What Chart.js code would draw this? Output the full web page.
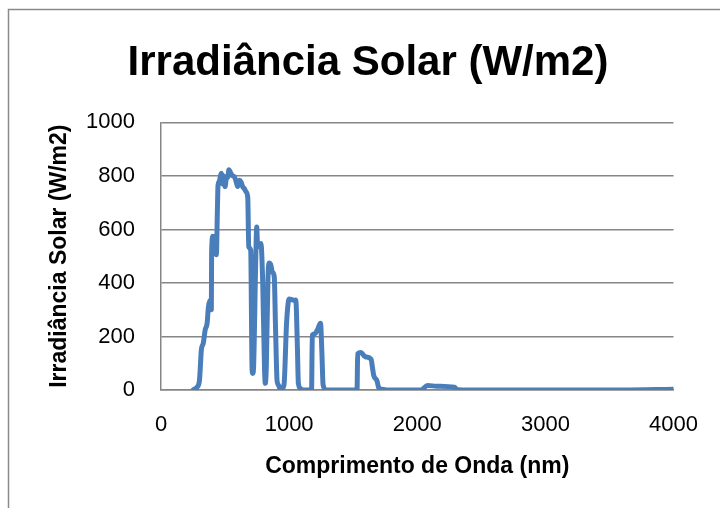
<!DOCTYPE html>
<html>
<head>
<meta charset="utf-8">
<title>Irradiância Solar</title>
<script src="https://cdn.jsdelivr.net/npm/chart.js@4/dist/chart.umd.min.js"></script>
<style>
  body { margin: 0; background: #fff; }
  #wrap { position: relative; width: 720px; height: 508px; }
</style>
</head>
<body>
<div id="wrap"><canvas id="irradChart" width="720" height="508"></canvas></div>
<script>
// comprimento de onda (nm) e irradiância (W/m2)
var comprimentoOnda = [
  250, 280, 300, 315, 330, 345, 360, 370, 385, 393,
  395, 405, 420, 432, 440, 445, 455, 470, 480, 490,
  500, 510, 522, 530, 547, 560, 574, 587, 599, 612,
  625, 638, 651, 665, 677, 685, 700, 711, 716, 722,
  740, 747, 754, 765, 780, 794, 808, 814, 822, 835,
  845, 855, 870, 884, 893, 905, 910, 920, 935, 960,
  980, 1000, 1020, 1040, 1052, 1065, 1072, 1090, 1100, 1175,
  1181, 1200, 1220, 1245, 1255, 1265, 1290, 1530, 1535, 1560,
  1595, 1640, 1650, 1660, 1685, 1700, 1724, 1760, 2030, 2080,
  2150, 2290, 2310, 2400, 3000, 3600, 4000
];
var irradiancia = [
  0, 10, 35, 150, 175, 225, 250, 310, 335, 300,
  510, 575, 560, 505, 670, 765, 780, 810, 770, 800,
  760, 790, 796, 823, 808, 800, 796, 777, 760, 784,
  777, 759, 752, 740, 720, 535, 522, 75, 62, 80,
  500, 609, 535, 540, 547, 398, 80, 25, 90, 420,
  475, 470, 440, 423, 250, 40, 25, 15, 0, 20,
  250, 340, 338, 335, 336, 150, 25, 5, 0, 0,
  205, 210, 224, 249, 150, 20, 0, 0, 135, 140,
  124, 115, 85, 55, 35, 8, 3, 0, 0, 17,
  14, 10, 2, 0, 0, 0, 3
];
var ticksX = [0, 1000, 2000, 3000, 4000];
var ticksY = [0, 200, 400, 600, 800, 1000];

var pontos = [];
for (var i = 0; i < comprimentoOnda.length; i++) {
  pontos.push({ x: comprimentoOnda[i], y: irradiancia[i] });
}

var fonte = "'Liberation Sans', Arial, sans-serif";
var cinza = '#868686';

// moldura da área do gráfico (só os lados esquerdo e superior aparecem)
var moldura = {
  id: 'moldura',
  beforeDraw: function(chart) {
    var ctx = chart.ctx;
    ctx.save();
    ctx.strokeStyle = '#8a8a8a';
    ctx.lineWidth = 1.5;
    ctx.beginPath();
    ctx.moveTo(8.5, 508);
    ctx.lineTo(8.5, 9.5);
    ctx.lineTo(720, 9.5);
    ctx.stroke();
    ctx.restore();
  }
};

function semSeparador(value) {
  return String(value);
}

var ctx = document.getElementById('irradChart').getContext('2d');
new Chart(ctx, {
  type: 'scatter',
  data: {
    datasets: [{
      label: 'Irradiância Solar',
      data: pontos,
      showLine: true,
      borderColor: '#4a7ebb',
      backgroundColor: '#4a7ebb',
      borderWidth: 5,
      borderJoinStyle: 'round',
      borderCapStyle: 'round',
      pointRadius: 0,
      cubicInterpolationMode: 'monotone'
    }]
  },
  options: {
    responsive: false,
    animation: false,
    // padding esquerdo desloca o título para o centro da moldura
    layout: { padding: { left: 59, right: 43, top: 0, bottom: 0 } },
    plugins: {
      legend: { display: false },
      tooltip: { enabled: false },
      title: {
        display: true,
        text: 'Irradiância Solar (W/m2)',
        color: '#000',
        font: { family: fonte, size: 42, weight: 'bold', lineHeight: 1.2 },
        padding: { top: 38, bottom: 34 }
      }
    },
    scales: {
      x: {
        type: 'linear',
        min: 0,
        max: 4000,
        afterBuildTicks: function(scale) {
          scale.ticks = ticksX.map(function(v) { return { value: v }; });
        },
        afterFit: function(scale) { scale.height = 118; },
        grid: { display: false, drawTicks: false },
        border: { display: true, color: cinza, width: 1.5 },
        ticks: {
          color: '#000',
          padding: 22,
          maxRotation: 0,
          callback: semSeparador,
          font: { family: fonte, size: 22 }
        },
        title: {
          display: true,
          text: 'Comprimento de Onda (nm)',
          color: '#000',
          font: { family: fonte, size: 23, weight: 'bold', lineHeight: 1.2 },
          padding: { top: 0, bottom: 28 }
        }
      },
      y: {
        min: 0,
        max: 1000,
        afterBuildTicks: function(scale) {
          scale.ticks = ticksY.map(function(v) { return { value: v }; });
        },
        afterFit: function(scale) { scale.width = 102; },
        grid: { color: cinza, lineWidth: 1.5, drawTicks: false },
        border: { display: true, color: cinza, width: 1.5 },
        ticks: {
          color: '#000',
          padding: 26,
          callback: semSeparador,
          font: { family: fonte, size: 22 }
        },
        title: {
          display: true,
          text: 'Irradiância Solar (W/m2)',
          color: '#000',
          font: { family: fonte, size: 23, weight: 'bold', lineHeight: 1.2 },
          // título fica à esquerda da caixa do eixo
          padding: { top: -13, bottom: 0 }
        }
      }
    }
  },
  plugins: [moldura]
});
</script>
</body>
</html>
